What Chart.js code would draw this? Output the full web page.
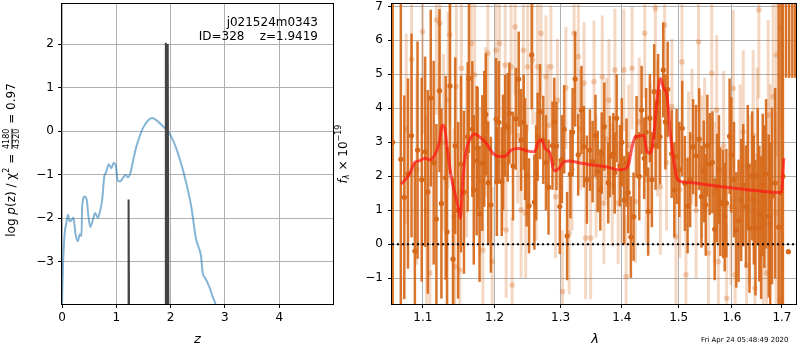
<!DOCTYPE html>
<html>
<head>
<meta charset="utf-8">
<script src="https://cdn.jsdelivr.net/npm/chart.js@4.4.0/dist/chart.umd.min.js"></script>
<style>
  body { margin: 0; background: #fff; }
  #wrap { position: relative; width: 800px; height: 350px; }
  canvas { position: absolute; top: 0; }
</style>
</head>
<body>
<div id="wrap">
  <canvas id="pz" width="340" height="350" style="left:0"></canvas>
  <canvas id="spec" width="474" height="350" style="left:326px"></canvas>
</div>
<script>
// ---- left panel: log p(z) ----
const pzTicksX = [0, 1, 2, 3, 4];
const pzTicksY = [-3, -2, -1, 0, 1, 2];
const pzZ = [0, 0.018, 0.05, 0.08, 0.11, 0.14, 0.19, 0.21, 0.25, 0.29, 0.33, 0.36, 0.37, 0.42, 0.46, 0.48,
             0.52, 0.57, 0.61, 0.66, 0.70, 0.74, 0.78, 0.81, 0.86, 0.91, 0.95, 0.99, 1.03, 1.07, 1.12, 1.17,
             1.21, 1.26, 1.30, 1.37, 1.43, 1.49, 1.58, 1.66, 1.73, 1.86, 1.95, 2.01, 2.09, 2.19, 2.28, 2.38,
             2.47, 2.52, 2.56, 2.59, 2.65, 2.72, 2.77, 2.82, 2.86];
const pzLog = [-3.95, -3.1, -2.34, -2.11, -1.92, -2.07, -2.02, -1.99, -2.37, -2.53, -2.37, -2.41, -1.76, -1.50, -1.61, -1.88,
               -2.20, -2.03, -1.88, -1.99, -1.84, -1.57, -1.03, -0.96, -0.76, -0.85, -0.73, -0.79, -1.15, -1.15, -1.08, -1.00,
               -1.06, -0.96, -0.73, -0.35, -0.12, 0.07, 0.24, 0.30, 0.26, 0.11, -0.01, -0.12, -0.35, -0.73, -1.15, -1.73,
               -2.49, -2.68, -2.87, -3.25, -3.40, -3.60, -3.79, -3.95, -4.2];
// narrow peaks of the fit (dark spikes)
const spikeAZ = [1.216, 1.226, 1.236];
const spikeAP = [-4.5, -1.57, -4.5];
const spikeBZ = [1.900, 1.912, 1.924, 1.935, 1.947, 1.959];
const spikeBP = [-4.5, 2.03, -4.5, -4.5, 2.0, -4.5];
const objName = 'j021524m0343';
const objInfo = 'ID=328    z=1.9419';

// ---- right panel: spectrum ----
const specTicksX = [1.1, 1.2, 1.3, 1.4, 1.5, 1.6, 1.7];
const specTicksY = [-1, 0, 1, 2, 3, 4, 5, 6, 7];

const darkLam = [1.0605, 1.0710, 1.0755, 1.0803, 1.0894, 1.0929, 1.1030, 1.1066, 1.1106, 1.1182, 1.1224, 1.1309,
  1.1327, 1.1368, 1.1409, 1.1520, 1.1562, 1.1614, 1.1632, 1.1680, 1.1741, 1.1755, 1.1783, 1.1822, 1.1873, 1.1907,
  1.1945, 1.2023, 1.2032, 1.2061, 1.2104, 1.2154, 1.2192, 1.2217, 1.2311, 1.2355, 1.2391, 1.2430, 1.2475, 1.2511,
  1.2551, 1.2592, 1.2642, 1.2729, 1.2810, 1.2872, 1.2934, 1.2987, 1.3055, 1.3102, 1.3155, 1.3230, 1.3279, 1.3332,
  1.3371, 1.3470, 1.3513, 1.3597, 1.3663, 1.3706, 1.3772, 1.3800, 1.3856, 1.3913, 1.3968, 1.4041, 1.4109, 1.4155,
  1.4201, 1.4253, 1.4340, 1.4385, 1.4455, 1.4485, 1.4561, 1.4586, 1.4663, 1.4722, 1.4801, 1.4873, 1.4962, 1.5064,
  1.5113, 1.5162, 1.5265, 1.5377, 1.5463, 1.5500, 1.5575, 1.5626, 1.5669, 1.5715, 1.5777, 1.5829, 1.5892, 1.5955,
  1.5988, 1.6085, 1.6129, 1.6221, 1.6274, 1.6344, 1.6397, 1.6463, 1.6510, 1.6576, 1.6609, 1.6676, 1.6730, 1.6796,
  1.6933, 1.6990, 1.7020, 1.7085, 1.7133, 1.7150, 1.7215, 1.7275,
  1.0850, 1.0985, 1.1145, 1.1250, 1.1440, 1.1480, 1.1700, 1.1850, 1.2125, 1.2270, 1.2450, 1.2620,
  1.2680, 1.2770, 1.2900, 1.3020, 1.3190, 1.3420, 1.3560, 1.3640, 1.3880, 1.4000, 1.4080, 1.4300,
  1.4420, 1.4520, 1.4630, 1.4760, 1.4920, 1.5010, 1.5210, 1.5320, 1.5420, 1.5530, 1.5750, 1.5860,
  1.6040, 1.6180, 1.6310, 1.6430, 1.6540, 1.6640, 1.6760, 1.6860];
const darkFlux = [3.0, 2.5, 1.38, 2.08, -0.2, 2.77, 2.72, 1.54, 4.30, 0.74, 4.52, 1.95,
  0.36, 4.66, -0.44, 2.36, 1.53, 3.16, 4.88, 3.39, 2.46, 2.83, 0.89, 2.39, 3.82, 1.81,
  1.16, 3.68, 1.84, 3.59, 1.84, 3.48, 3.44, 3.85, 3.69, 4.86, 3.07, 3.59, 2.02, 1.13,
  5.57, 1.24, 3.16, 3.07, 1.68, 2.90, 2.89, 1.11, 3.38, 0.24, 2.06, 4.86, 2.63, 3.95,
  2.87, 2.77, 2.43, 2.14, 2.68, 3.46, 1.81, 2.58, 2.66, 3.71, 2.31, 1.30, 1.52, 0.21,
  0.81, 3.16, 3.95, 2.53, 0.96, 3.71, 4.49, 2.90, 3.16, 5.13, 4.56, 2.66, 2.58, 3.41,
  1.79, 1.13, 2.87, 3.09, 2.14, 1.16, 2.36, 2.41, 0.44, 1.65, 1.25, 1.19, 1.21, 3.18,
  2.63, 0.42, 0.69, 1.74, 1.11, 0.47, 2.01, 0.49, 2.01, 0.49, 1.74, 2.07, 0.83, 1.42,
  0.50, 1.5, 2.0, 8.0, -0.22, 8.0, 8.0, 8.0,
  3.2, 1.9, 2.4, 1.2, 2.9, 1.0, 1.6, 3.1, 2.7, 2.3, 2.8, 2.1,
  3.9, 2.4, 3.6, 2.5, 3.3, 1.9, 3.2, 1.6, 2.1, 3.0, 2.4, 2.0,
  3.3, 1.9, 4.2, 3.6, 1.6, 2.2, 1.9, 2.6, 1.4, 2.9, 2.2, 0.8,
  1.9, 1.3, 2.3, 1.3, 0.9, 1.4, 0.6, 1.8];
const darkErr = [9, 9, 3.0, 2.8, 2.6, 3.2, 2.8, 3.0, 2.6, 2.8, 2.4, 3.0,
  2.5, 2.6, 2.4, 2.6, 2.4, 2.2, 2.2, 2.0, 2.2, 1.8, 2.0, 2.0, 1.8, 1.8,
  2.0, 1.8, 1.6, 1.8, 1.6, 1.5, 1.6, 1.5, 1.5, 1.4, 1.5, 1.4, 1.5, 1.4,
  1.6, 1.4, 1.3, 1.3, 1.4, 1.3, 1.3, 1.4, 1.3, 1.3, 1.3, 1.4, 1.2, 1.3,
  1.2, 1.2, 1.2, 1.2, 1.2, 1.3, 1.2, 1.2, 1.2, 1.3, 1.2, 1.3, 1.2, 1.2,
  1.3, 1.2, 1.3, 1.2, 1.3, 1.3, 1.4, 1.3, 1.4, 1.4, 1.4, 1.3, 1.4, 1.4,
  1.4, 1.4, 1.4, 1.5, 1.5, 1.5, 1.5, 1.5, 1.5, 1.6, 1.6, 1.6, 1.6, 1.7,
  1.7, 1.7, 1.8, 1.8, 1.8, 1.9, 1.9, 2.0, 2.0, 2.1, 2.1, 2.2, 2.4, 2.6,
  9, 9, 9, 3.1, 0, 3.1, 3.1, 3.1,
  3.0, 3.0, 3.0, 2.8, 2.6, 2.6, 2.2, 2.0, 1.7, 1.6, 1.5, 1.4,
  1.4, 1.4, 1.3, 1.3, 1.3, 1.3, 1.2, 1.2, 1.2, 1.3, 1.3, 1.3,
  1.3, 1.4, 1.4, 1.4, 1.4, 1.4, 1.4, 1.5, 1.5, 1.5, 1.6, 1.6,
  1.7, 1.8, 1.8, 1.9, 2.0, 2.1, 2.4, 2.8];

const lightLam = [1.078, 1.085, 1.092, 1.0996, 1.105, 1.1093, 1.1183, 1.1228, 1.128, 1.1341, 1.1364, 1.142,
  1.1433, 1.1456, 1.1502, 1.1526, 1.160, 1.1666, 1.1713, 1.1783, 1.1830, 1.187, 1.1902, 1.1965,
  1.2023, 1.2071, 1.212, 1.2154, 1.2169, 1.2242, 1.2257, 1.2302, 1.234, 1.2391, 1.2426, 1.246,
  1.2490, 1.2566, 1.262, 1.2641, 1.2693, 1.2770, 1.280, 1.2847, 1.292, 1.2950, 1.3029, 1.3082,
  1.3134, 1.318, 1.3214, 1.3282, 1.332, 1.3373, 1.3400, 1.3481, 1.3536, 1.357, 1.3672, 1.3700,
  1.374, 1.3783, 1.3839, 1.3884, 1.3938, 1.400, 1.4035, 1.4074, 1.412, 1.4176, 1.4234, 1.430,
  1.4395, 1.442, 1.4494, 1.4582, 1.462, 1.4670, 1.4747, 1.478, 1.4877, 1.4950, 1.502, 1.5059,
  1.5132, 1.518, 1.5243, 1.532, 1.5364, 1.5426, 1.548, 1.5551, 1.5613, 1.566, 1.5707, 1.5739,
  1.584, 1.5898, 1.598, 1.6027, 1.6060, 1.616, 1.6221, 1.6286, 1.634, 1.6418, 1.6452, 1.650,
  1.6531, 1.662, 1.6684, 1.6718, 1.676, 1.6819, 1.688, 1.6887, 1.6956, 1.6977];
const lightFlux = [3.4, 5.44, 2.2, 6.25, 1.0, -0.85, 6.6, 6.5, 3.0, 4.24, 6.16, 0.8,
  -0.66, 4.64, -0.76, 5.18, 2.6, 5.91, 4.98, 1.84, -0.17, 3.6, 5.62, -0.51,
  5.71, 5.91, 2.4, 5.27, 0.42, 5.22, -1.2, 6.4, 3.2, 1.01, 5.71, 0.9,
  5.22, 5.42, 2.0, 5.22, 6.21, 4.93, 3.5, 5.22, 1.4, 4.24, -1.39, 4.6,
  0.32, 2.2, 6.21, 5.52, 3.4, 4.74, 0.18, 0.18, 4.78, 2.0, 4.93, 1.21,
  3.1, 4.24, 1.74, 5.13, 1.21, 1.8, 5.13, -0.95, 2.9, 5.18, 1.25, 3.6,
  6.21, 1.9, 2.82, 6.94, 3.4, 1.69, 6.45, 2.4, 4.05, 0.22, 1.6, 5.37,
  -0.9, 2.5, 3.16, 1.0, 5.96, 2.28, 2.8, -0.26, 5.03, 1.5, 3.95, -0.51,
  2.9, -1.59, 1.1, 4.59, -0.9, 2.3, 3.31, -0.61, 1.3, 3.21, -1.29, 2.6,
  6.89, 0.6, -0.85, 3.8, 1.9, 4.34, 0.9, 5.57, -1.64, 6.35];
const lightErr = [2.8, 3.0, 2.8, 3.0, 2.8, 2.8, 2.8, 2.8, 2.6, 2.6, 2.6, 2.6,
  2.4, 2.6, 2.4, 2.4, 2.4, 2.4, 2.4, 2.2, 2.2, 2.2, 2.2, 2.2,
  2.2, 2.2, 2.0, 2.0, 2.0, 2.0, 2.0, 2.0, 2.0, 2.0, 2.0, 1.9,
  1.9, 1.9, 1.9, 1.9, 1.9, 1.8, 1.8, 1.8, 1.8, 1.8, 1.8, 1.8,
  1.8, 1.8, 1.8, 1.8, 1.8, 1.8, 1.8, 1.8, 1.8, 1.8, 1.8, 1.8,
  1.8, 1.8, 1.8, 1.8, 1.8, 1.8, 1.8, 1.8, 1.8, 1.8, 1.8, 1.9,
  1.9, 1.9, 1.9, 2.0, 2.0, 2.0, 2.0, 2.0, 2.0, 2.0, 2.0, 2.0,
  2.0, 2.0, 2.0, 2.0, 2.1, 2.1, 2.1, 2.1, 2.1, 2.1, 2.2, 2.2,
  2.2, 2.2, 2.3, 2.3, 2.3, 2.4, 2.4, 2.4, 2.5, 2.5, 2.5, 2.6,
  2.6, 2.7, 2.7, 2.8, 2.8, 2.9, 3.0, 3.0, 3.0, 3.0];

const modelLam = [1.0712, 1.0764, 1.0829, 1.0894, 1.0960, 1.1026, 1.1093, 1.1160, 1.1219, 1.1265, 1.1296, 1.1327,
  1.1388, 1.1447, 1.1479, 1.1512, 1.1549, 1.1586, 1.1642, 1.1713, 1.1783, 1.1878, 1.1974, 1.2071, 1.2144,
  1.2242, 1.2366, 1.2490, 1.2592, 1.2656, 1.2703, 1.2760, 1.2832, 1.2898, 1.2976, 1.3055, 1.3134, 1.3293,
  1.3508, 1.3729, 1.3950, 1.4052, 1.4120, 1.4176, 1.4234, 1.4320, 1.4377, 1.4435, 1.4494, 1.4552, 1.4611,
  1.4670, 1.4729, 1.4788, 1.4848, 1.4908, 1.4968, 1.5059, 1.5243, 1.5802, 1.6452, 1.6956, 1.6990, 1.7038];
const modelFlux = [1.77, 1.89, 2.09, 2.41, 2.46, 2.53, 2.48, 2.63, 2.97, 3.51, 3.41, 2.87,
  1.94, 1.40, 1.11, 0.76, 1.99, 2.68, 3.07, 3.24, 3.16, 2.97, 2.68, 2.58, 2.58,
  2.77, 2.82, 2.74, 2.72, 3.02, 3.07, 2.82, 2.68, 2.16, 2.23, 2.43, 2.45, 2.40,
  2.33, 2.28, 2.19, 2.21, 2.38, 2.87, 3.16, 3.19, 3.21, 2.72, 2.68, 3.16, 4.24,
  4.88, 4.59, 4.39, 3.26, 2.48, 1.94, 1.84, 1.81, 1.69, 1.58, 1.52, 1.55, 2.53];
const timeStamp = 'Fri Apr 24 05:48:49 2020';

Chart.defaults.font.family = "'DejaVu Sans', sans-serif";
Chart.defaults.font.size = 11;
Chart.defaults.color = '#000';

const toPts = (xs, ys) => xs.map((x, i) => ({ x: x, y: ys[i] }));
const fmtMinus = v => (v < 0 ? '\u2212' + Math.abs(v) : String(v));

// draw vertical error bars for datasets carrying an "errors" list
const errorBars = {
    id: 'errorBars',
    beforeDatasetDraw(chart, args) {
        const ds = chart.data.datasets[args.index];
        if (!ds.errors) return;
        const { ctx, chartArea, scales } = chart;
        ctx.save();
        ctx.beginPath();
        ctx.rect(chartArea.left, chartArea.top, chartArea.width, chartArea.height);
        ctx.clip();
        ctx.strokeStyle = ds.barColor;
        ctx.lineWidth = ds.barWidth;
        ds.data.forEach((p, i) => {
            const e = ds.errors[i];
            if (!e) return;
            const x = scales.x.getPixelForValue(p.x);
            ctx.beginPath();
            ctx.moveTo(x, scales.y.getPixelForValue(p.y - e));
            ctx.lineTo(x, scales.y.getPixelForValue(p.y + e));
            ctx.stroke();
        });
        ctx.restore();
    }
};

// black box round the plot area
const frame = {
    id: 'frame',
    afterDraw(chart) {
        const { ctx, chartArea: a } = chart;
        ctx.save();
        ctx.strokeStyle = '#000';
        ctx.lineWidth = 1;
        ctx.strokeRect(a.left - 0.5, a.top - 0.5, a.width + 1, a.height + 1);
        ctx.restore();
    }
};

// run of text pieces, optionally rotated, centred on (cx, cy)
function drawRun(ctx, parts, cx, cy, rotate) {
    ctx.save();
    ctx.translate(cx, cy);
    if (rotate) ctx.rotate(-Math.PI / 2);
    ctx.textBaseline = 'middle';
    ctx.fillStyle = '#000';
    let total = 0;
    parts.forEach(p => {
        ctx.font = p.font;
        p.w = p.frac ? Math.max(ctx.measureText(p.frac[0]).width, ctx.measureText(p.frac[1]).width) + 2
                     : ctx.measureText(p.t).width;
        total += p.w;
    });
    let x = -total / 2;
    parts.forEach(p => {
        ctx.font = p.font;
        if (p.frac) {
            ctx.textAlign = 'center';
            ctx.fillText(p.frac[0], x + p.w / 2, -5);
            ctx.fillText(p.frac[1], x + p.w / 2, 5);
            ctx.fillRect(x + 1, -0.5, p.w - 2, 1);
            ctx.textAlign = 'left';
        } else {
            ctx.textAlign = 'left';
            ctx.fillText(p.t, x, p.dy || 0);
        }
        x += p.w;
    });
    ctx.restore();
}

const F = "'DejaVu Sans'";
const pzLabels = {
    id: 'pzLabels',
    afterDraw(chart) {
        const ctx = chart.ctx;
        const a = chart.chartArea;
        drawRun(ctx, [
            { t: 'log ', font: '12px ' + F },
            { t: 'p', font: 'italic 12px ' + F },
            { t: '(z) / \u03c7', font: '12px ' + F },
            { t: '2', font: '8px ' + F, dy: -5 },
            { t: ' = ', font: '12px ' + F },
            { frac: ['4180', '4320'], font: '8px ' + F },
            { t: ' = 0.97', font: '12px ' + F }
        ], 12, 160, true);
        drawRun(ctx, [{ t: 'z', font: 'italic 13px ' + F }], (a.left + a.right) / 2, 340, false);
        ctx.save();
        ctx.font = '12px ' + F;
        ctx.fillStyle = '#000';
        ctx.textAlign = 'right';
        ctx.textBaseline = 'alphabetic';
        ctx.fillText(objName, a.right - 15, 26);
        ctx.fillText(objInfo, a.right - 15, 40);
        ctx.restore();
    }
};

const specLabels = {
    id: 'specLabels',
    afterDraw(chart) {
        const ctx = chart.ctx;
        const a = chart.chartArea;
        drawRun(ctx, [
            { t: 'f', font: 'italic 12px ' + F },
            { t: '\u03bb', font: 'italic 8px ' + F, dy: 3 },
            { t: ' \u00d7 10', font: '12px ' + F },
            { t: '\u221219', font: '8px ' + F, dy: -5 }
        ], 18, (a.top + a.bottom) / 2, true);
        drawRun(ctx, [{ t: '\u03bb', font: 'italic 13px ' + F }], 269, 340, false);
        ctx.save();
        ctx.font = '7px ' + F;
        ctx.fillStyle = '#000';
        ctx.textAlign = 'left';
        ctx.textBaseline = 'middle';
        ctx.fillText(timeStamp, 375, 340);
        ctx.restore();
    }
};

function gridOpts() {
    return { color: '#b0b0b0', lineWidth: 1, tickColor: '#000', tickLength: 4 };
}

// left: redshift probability
new Chart(document.getElementById('pz'), {
    type: 'line',
    data: {
        datasets: [
            { data: toPts(spikeAZ, spikeAP), borderColor: '#444', borderWidth: 2, pointRadius: 0, order: 0 },
            { data: toPts(spikeBZ, spikeBP), borderColor: '#444', borderWidth: 2, pointRadius: 0, order: 0 },
            { data: toPts(pzZ, pzLog), borderColor: 'rgba(31,119,180,0.55)', borderWidth: 2, pointRadius: 0,
              cubicInterpolationMode: 'monotone', order: 1 }
        ]
    },
    options: {
        responsive: false,
        animation: false,
        events: [],
        layout: { padding: { top: 4, right: 7, left: 0, bottom: 0 } },
        plugins: { legend: { display: false }, tooltip: { enabled: false } },
        scales: {
            x: {
                type: 'linear', min: 0, max: 4.99,
                grid: gridOpts(), border: { display: false },
                ticks: { padding: 3, maxRotation: 0, font: { size: 12 } },
                afterBuildTicks: s => { s.ticks = pzTicksX.map(v => ({ value: v })); },
                afterFit: s => { s.height = 46; s.paddingLeft = 0; s.paddingRight = 0; }
            },
            y: {
                type: 'linear', min: -3.97, max: 2.92,
                grid: gridOpts(), border: { display: false },
                ticks: { padding: 4, font: { size: 12 }, callback: v => fmtMinus(v) },
                afterBuildTicks: s => { s.ticks = pzTicksY.map(v => ({ value: v })); },
                afterFit: s => { s.width = 62; s.paddingTop = 0; s.paddingBottom = 0; }
            }
        }
    },
    plugins: [frame, pzLabels]
});

// right: spectrum with error bars
new Chart(document.getElementById('spec'), {
    type: 'scatter',
    data: {
        datasets: [
            { type: 'line', data: [{ x: 1.0596, y: 0 }, { x: 1.7292, y: 0 }], borderColor: '#000',
              borderWidth: 2, borderDash: [2, 3], pointRadius: 0, order: 0 },
            { type: 'line', data: toPts(modelLam, modelFlux), borderColor: 'rgba(255,20,20,0.7)',
              borderWidth: 3, pointRadius: 0, cubicInterpolationMode: 'monotone', order: 1 },
            { data: toPts(darkLam, darkFlux), errors: darkErr, barColor: 'rgba(214,104,24,0.92)', barWidth: 2.5,
              pointRadius: 2.6, pointBorderWidth: 0, pointBackgroundColor: '#d6681a', order: 2 },
            { data: toPts(lightLam, lightFlux), errors: lightErr, barColor: 'rgba(214,104,24,0.26)', barWidth: 3,
              pointRadius: 2.8, pointBorderWidth: 0, pointBackgroundColor: 'rgba(214,104,24,0.3)', order: 3 }
        ]
    },
    options: {
        responsive: false,
        animation: false,
        events: [],
        layout: { padding: { top: 4, right: 2, left: 0, bottom: 0 } },
        plugins: { legend: { display: false }, tooltip: { enabled: false } },
        scales: {
            x: {
                type: 'logarithmic', min: 1.0596, max: 1.7292,
                grid: gridOpts(), border: { display: false },
                ticks: { padding: 3, maxRotation: 0, autoSkip: false, font: { size: 12 },
                         callback: v => Number(v).toFixed(1) },
                afterBuildTicks: s => { s.ticks = specTicksX.map(v => ({ value: v })); },
                afterFit: s => { s.height = 46; s.paddingLeft = 0; s.paddingRight = 0; }
            },
            y: {
                type: 'linear', min: -1.76, max: 7.07,
                grid: gridOpts(), border: { display: false },
                ticks: { padding: 5, font: { size: 12 }, callback: v => fmtMinus(v) },
                afterBuildTicks: s => { s.ticks = specTicksY.map(v => ({ value: v })); },
                afterFit: s => { s.width = 66; s.paddingTop = 0; s.paddingBottom = 0; }
            }
        }
    },
    plugins: [errorBars, frame, specLabels]
});
</script>
</body>
</html>
